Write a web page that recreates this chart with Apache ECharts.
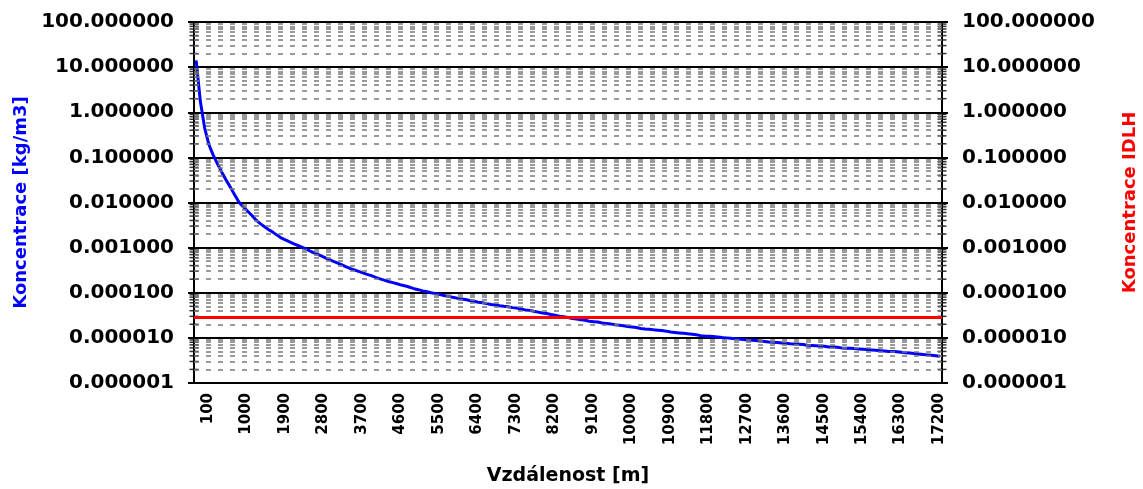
<!DOCTYPE html>
<html><head><meta charset="utf-8">
<script src="https://cdn.jsdelivr.net/npm/echarts@6/dist/echarts.min.js"></script>
<style>html,body{margin:0;padding:0;background:#fff}#c{width:1143px;height:489px}</style>
</head><body><div id="c"></div>
<script>
const distances = [
  100,200,300,400,500,600,700,800,900,1000,1100,1200,1300,1400,1500,1600,1700,1800,1900,2000,
  2100,2200,2300,2400,2500,2600,2700,2800,2900,3000,3100,3200,3300,3400,3500,3600,3700,3800,3900,4000,
  4100,4200,4300,4400,4500,4600,4700,4800,4900,5000,5100,5200,5300,5400,5500,5600,5700,5800,5900,6000,
  6100,6200,6300,6400,6500,6600,6700,6800,6900,7000,7100,7200,7300,7400,7500,7600,7700,7800,7900,8000,
  8100,8200,8300,8400,8500,8600,8700,8800,8900,9000,9100,9200,9300,9400,9500,9600,9700,9800,9900,10000,
  10100,10200,10300,10400,10500,10600,10700,10800,10900,11000,11100,11200,11300,11400,11500,11600,11700,11800,11900,12000,
  12100,12200,12300,12400,12500,12600,12700,12800,12900,13000,13100,13200,13300,13400,13500,13600,13700,13800,13900,14000,
  14100,14200,14300,14400,14500,14600,14700,14800,14900,15000,15100,15200,15300,15400,15500,15600,15700,15800,15900,16000,
  16100,16200,16300,16400,16500,16600,16700,16800,16900,17000,17100,17200,17300,17400,17500
];
const concentration = [
  14.1,1.70,0.447,0.19,0.112,0.072,0.047,0.0316,0.0219,0.0148,0.0102,0.0081,0.0065,0.0052,0.0041,0.0034,0.0029,0.0025,0.00218,0.00187,
  0.00162,0.00146,0.00132,0.0012,0.0011,0.0010,0.00090,0.00081,0.00074,0.00067,0.00061,0.00055,0.00050,0.00046,0.00042,0.00038,0.000345,0.000322,0.000297,0.000275,
  0.000255,0.000239,0.000219,0.000203,0.000190,0.000178,0.000168,0.000158,0.000148,0.000141,0.000132,0.000123,0.000117,0.000110,0.000105,0.000100,0.0000955,0.0000912,0.0000871,0.0000832,
  0.0000794,0.0000759,0.0000724,0.0000708,0.0000676,0.0000646,0.0000617,0.0000603,0.0000575,0.0000550,0.0000537,0.0000513,0.0000501,0.0000490,0.0000468,0.0000457,0.0000437,0.0000417,0.0000407,0.0000389,
  0.0000372,0.0000355,0.0000347,0.0000331,0.0000316,0.0000302,0.0000295,0.0000282,0.0000269,0.0000263,0.0000251,0.0000245,0.0000234,0.0000229,0.0000224,0.0000214,0.0000209,0.0000204,0.0000195,0.0000191,
  0.0000186,0.0000178,0.0000174,0.0000170,0.0000162,0.0000158,0.0000155,0.0000151,0.0000148,0.0000145,0.0000141,0.0000135,0.0000132,0.0000129,0.0000126,0.0000123,0.0000120,0.0000117,0.0000112,0.0000110,
  0.0000109,0.0000107,0.0000105,0.0000102,0.0000100,0.0000098,0.0000096,0.0000094,0.0000092,0.0000090,0.0000089,0.0000087,0.0000085,0.0000083,0.0000081,0.0000080,0.0000079,0.0000077,0.0000076,0.0000074,
  0.0000073,0.0000072,0.0000071,0.0000069,0.0000068,0.0000067,0.0000066,0.0000065,0.0000063,0.0000063,0.0000062,0.0000060,0.0000059,0.0000059,0.0000058,0.0000057,0.0000056,0.0000055,0.0000054,0.0000053,
  0.0000052,0.0000051,0.0000050,0.0000050,0.0000049,0.0000048,0.0000047,0.0000046,0.0000045,0.0000044,0.0000043,0.0000042,0.0000041,0.0000040,0.0000039
];
const idlhConcentration = 0.000028;
const decadeBases = [0.000001,0.00001,0.0001,0.001,0.01,0.1,1,10];
const minorSteps = [2,3,4,5,6,7,8,9];
const xTitle = 'Vzdálenost [m]';
const yTitleLeft = 'Koncentrace [kg/m3]';
const yTitleRight = 'Koncentrace IDLH';

const minorGridValues = [];
decadeBases.forEach(b => minorSteps.forEach(m => minorGridValues.push(+(b * m).toPrecision(3))));
// minor tick marks at both side axes (x = 0 -> left axis, x = 1 -> right axis on a hidden helper axis)
const minorTickPoints = [];
minorGridValues.forEach(v => { minorTickPoints.push([0, v]); minorTickPoints.push([1, v]); });

const FONT = 'DejaVu Sans';
const yLabel = {fontFamily: FONT, fontWeight: 'bold', fontSize: 20, color: '#000', formatter: v => Number(v).toFixed(6)};

function yAxisBase(extra) {
  return Object.assign({
    type: 'log', logBase: 10, min: 0.000001, max: 100, splitNumber: 8,
    nameLocation: 'middle', nameRotate: 90,
    axisLine: {show: true, lineStyle: {color: '#000', width: 2}},
    axisTick: {show: true, inside: false, length: 6, lineStyle: {color: '#000', width: 2}},
    minorTick: {show: false}
  }, extra);
}

const chart = echarts.init(document.getElementById('c'), null, {renderer: 'canvas'});
chart.setOption({
  backgroundColor: '#fff',
  animation: false,
  grid: {left: 194, right: 201, top: 22, bottom: 106, show: true, borderColor: '#000', borderWidth: 1,
    containLabel: false, outerBoundsMode: 'none'},
  xAxis: [{
    type: 'category', data: distances, boundaryGap: true,
    name: xTitle, nameLocation: 'middle', nameGap: 84,
    nameTextStyle: {fontFamily: FONT, fontWeight: 'bold', fontSize: 19, color: '#000'},
    axisLine: {lineStyle: {color: '#000', width: 2}},
    axisTick: {show: false},
    splitLine: {show: false},
    axisLabel: {interval: 8, rotate: 90, margin: 10, hideOverlap: false, verticalAlign: 'top', lineHeight: 24,
      fontFamily: FONT, fontWeight: 'bold', fontSize: 15, color: '#000'}
  }, {
    type: 'value', min: 0, max: 1, show: false, position: 'top'
  }],
  yAxis: [
    yAxisBase({
      position: 'left', name: yTitleLeft, nameGap: 160,
      nameTextStyle: {fontFamily: FONT, fontWeight: 'bold', fontSize: 18, color: '#0000ff'},
      axisLabel: Object.assign({margin: 20}, yLabel),
      splitLine: {show: true, lineStyle: {color: '#000', width: 2}}
    }),
    yAxisBase({
      position: 'right', name: yTitleRight, nameGap: 179,
      nameTextStyle: {fontFamily: FONT, fontWeight: 'bold', fontSize: 18, color: '#ff0000'},
      axisLabel: Object.assign({margin: 20}, yLabel),
      splitLine: {show: false}
    })
  ],
  series: [
    {
      name: 'minor', type: 'line', yAxisIndex: 0, data: [], silent: true, z: 1,
      markLine: {
        silent: true, symbol: ['none', 'none'], label: {show: false}, animation: false, precision: 10,
        lineStyle: {color: '#7a7a7a', width: 1.5, type: [5, 7]},
        data: minorGridValues.map(v => ({yAxis: v}))
      }
    },
    {
      name: 'minorTicks', type: 'scatter', xAxisIndex: 1, yAxisIndex: 0, data: minorTickPoints, silent: true, z: 4,
      symbol: 'rect', symbolSize: [9, 1.5], itemStyle: {color: '#000'}, clip: false
    },
    {
      name: 'IDLH', type: 'line', yAxisIndex: 1, data: [], silent: true, z: 2,
      markLine: {
        silent: true, symbol: ['none', 'none'], label: {show: false}, animation: false, precision: 10,
        lineStyle: {color: '#ff0000', width: 3, type: 'solid'},
        data: [{yAxis: idlhConcentration}]
      }
    },
    {
      name: 'Koncentrace', type: 'line', yAxisIndex: 0, data: concentration, z: 3,
      showSymbol: false, symbol: 'none', smooth: false,
      lineStyle: {color: '#0000ff', width: 3}
    }
  ]
});
</script></body></html>
